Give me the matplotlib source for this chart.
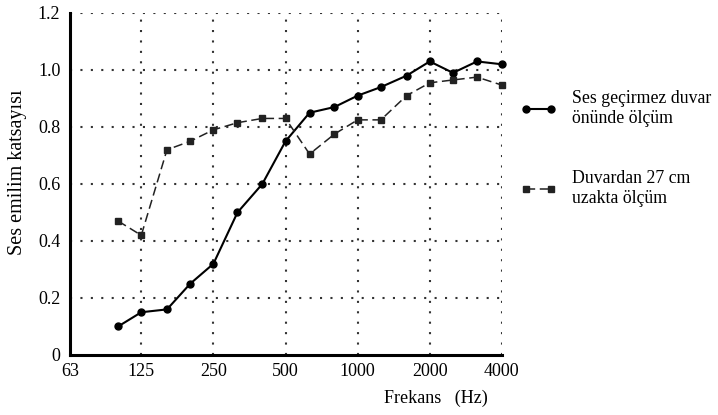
import numpy as np
import matplotlib.pyplot as plt

plt.rcParams['font.family'] = ['Liberation Serif', 'DejaVu Serif']

# 1/3 oktav bant frekansları
freqs = [100, 125, 160, 200, 250, 315, 400, 500, 630, 800,
         1000, 1250, 1600, 2000, 2500, 3150, 4000]

# Ses geçirmez duvar önünde
wall_front = [0.10, 0.15, 0.16, 0.25, 0.32, 0.50, 0.60, 0.75, 0.85, 0.87,
              0.91, 0.94, 0.98, 1.03, 0.99, 1.03, 1.02]
# Duvardan 27 cm uzakta
wall_27cm = [0.47, 0.42, 0.72, 0.75, 0.79, 0.815, 0.83, 0.83, 0.705, 0.775,
             0.825, 0.825, 0.91, 0.955, 0.965, 0.975, 0.947]

xticks = [63, 125, 250, 500, 1000, 2000, 4000]
yticks = [0, 0.2, 0.4, 0.6, 0.8, 1.0, 1.2]

fig = plt.figure(figsize=(7.18, 4.15), dpi=100)
ax = fig.add_axes([0.0975, 0.1446, 0.6015, 0.8241])

ax.plot(freqs, wall_front, '-', color='black', lw=1.5, marker='o', ms=5,
        label='Ses geçirmez duvar\nönünde ölçüm', clip_on=False)
ax.plot(freqs, wall_27cm, '--', color='#222222', lw=1.1, dashes=(6, 3),
        marker='s', ms=5, label='Duvardan 27 cm\nuzakta ölçüm', clip_on=False)

ax.set_xscale('log')
ax.set_xlim(63, 4000)
ax.set_ylim(0, 1.2)
ax.set_xticks(xticks)
ax.set_xticklabels([str(t) for t in xticks])
ax.xaxis.set_minor_locator(plt.NullLocator())
ax.set_yticks(yticks)
ax.set_yticklabels(['0', '0.2', '0.4', '0.6', '0.8', '1.0', '1.2'])
ax.tick_params(axis='y', length=0, labelsize=13, pad=7)
ax.tick_params(axis='x', length=0, labelsize=13, pad=6)

# noktalı ızgara
for t in xticks[1:]:
    ax.axvline(t, color='#333333', ls=(0, (1, 4)), lw=1.5, zorder=0)
for t in yticks[1:]:
    ax.axhline(t, color='#333333', ls=(0, (1, 4)), lw=1.5, zorder=0)

for s in ['top', 'right']:
    ax.spines[s].set_visible(False)
for s in ['left', 'bottom']:
    ax.spines[s].set_linewidth(2.2)

fig.text(18 / 718, 1 - 172 / 415, 'Ses emilim katsayısı', fontsize=14.5,
         rotation=90, ha='center', va='center')
fig.text(488 / 718, 1 - 398 / 415, 'Frekans   (Hz)', fontsize=13,
         ha='right', va='center')

ax.legend(loc='upper left', bbox_to_anchor=(505 / 718, 1 - 74 / 415),
          bbox_transform=fig.transFigure, frameon=False,
          fontsize=12.8, numpoints=2, handlelength=2.0, labelspacing=2.45,
          handletextpad=0.85)

fig.savefig('out.png', dpi=100)
